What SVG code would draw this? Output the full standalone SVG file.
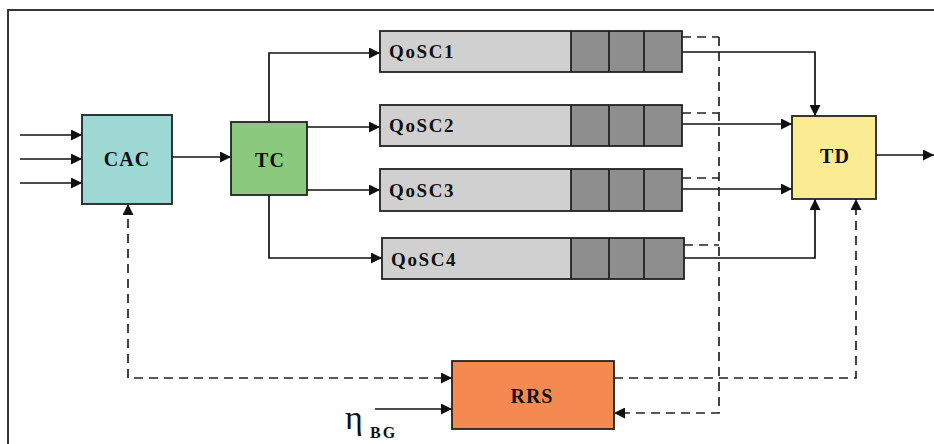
<svg xmlns="http://www.w3.org/2000/svg" width="934" height="444" viewBox="0 0 934 444">
  <defs>
    <marker id="arr" viewBox="0 0 10 10" refX="10" refY="5" markerWidth="11" markerHeight="11" markerUnits="userSpaceOnUse" orient="auto-start-reverse">
      <path d="M0,0 L10,5 L0,10 z" fill="#111"/>
    </marker>
    <style>
      .box { stroke: #222; stroke-width: 1.8; }
      .lbl { font-family: "Liberation Serif", "Times New Roman", serif; font-weight: bold; fill: #111; }
      .big { font-size: 20px; letter-spacing: 1px; }
      .q { font-size: 19px; letter-spacing: 1.6px; }
      .light { fill: #d0d0d0; }
      .dark { fill: #8e8e8e; }
      .ln { fill: none; stroke: #111; stroke-width: 1.7; }
      .dash { fill: none; stroke: #222; stroke-width: 1.7; stroke-dasharray: 9 6; }
    </style>
  </defs>

  <rect width="934" height="444" fill="#fff"/>
  <!-- outer frame (only top and left edges fall inside the canvas) -->
  <rect x="8" y="10" width="940" height="450" fill="none" stroke="#222" stroke-width="1.8"/>

  <g id="connectors">
    <!-- incoming traffic -->
    <line class="ln" x1="20" y1="135" x2="82" y2="135" marker-end="url(#arr)"/>
    <line class="ln" x1="20" y1="159" x2="82" y2="159" marker-end="url(#arr)"/>
    <line class="ln" x1="20" y1="183" x2="82" y2="183" marker-end="url(#arr)"/>
    <!-- CAC to TC -->
    <line class="ln" x1="172" y1="157" x2="231" y2="157" marker-end="url(#arr)"/>
    <!-- TC to queues -->
    <polyline class="ln" points="269,122 269,53 380,53" marker-end="url(#arr)"/>
    <line class="ln" x1="307" y1="127" x2="380" y2="127" marker-end="url(#arr)"/>
    <line class="ln" x1="307" y1="190" x2="380" y2="190" marker-end="url(#arr)"/>
    <polyline class="ln" points="269,195 269,258 382,258" marker-end="url(#arr)"/>
    <!-- queues to TD -->
    <polyline class="ln" points="682,52 815,52 815,116" marker-end="url(#arr)"/>
    <line class="ln" x1="682" y1="124" x2="792" y2="124" marker-end="url(#arr)"/>
    <line class="ln" x1="682" y1="189" x2="792" y2="189" marker-end="url(#arr)"/>
    <polyline class="ln" points="684,258 815,258 815,199" marker-end="url(#arr)"/>
    <!-- TD output -->
    <line class="ln" x1="876" y1="155" x2="934" y2="155" marker-end="url(#arr)"/>
    <!-- queue occupancy feedback to RRS -->
    <line class="dash" x1="682" y1="37" x2="719" y2="37"/>
    <line class="dash" x1="682" y1="113" x2="719" y2="113"/>
    <line class="dash" x1="682" y1="178" x2="719" y2="178"/>
    <line class="dash" x1="684" y1="245" x2="719" y2="245"/>
    <polyline class="dash" points="719,37 719,413 614,413" marker-end="url(#arr)"/>
    <!-- RRS to TD -->
    <polyline class="dash" points="614,378 856,378 856,199" marker-end="url(#arr)"/>
    <!-- CAC and RRS exchange -->
    <polyline class="dash" points="128,204 128,378 452,378" marker-start="url(#arr)" marker-end="url(#arr)"/>
    <!-- background load input -->
    <line class="ln" x1="375" y1="409" x2="452" y2="409" marker-end="url(#arr)"/>
  </g>

  <g id="CAC">
    <rect class="box" x="82" y="115" width="90" height="89" fill="#9dd8d4"/>
    <text class="lbl big" x="127" y="166" text-anchor="middle">CAC</text>
  </g>

  <g id="TC">
    <rect class="box" x="231" y="122" width="76" height="73" fill="#8bc97f"/>
    <text class="lbl big" x="270" y="167" text-anchor="middle">TC</text>
  </g>

  <g id="QoSC1">
    <rect class="light" x="380" y="31" width="191" height="41"/>
    <rect class="dark" x="571" y="31" width="111" height="41"/>
    <rect class="box" x="380" y="31" width="302" height="41" fill="none"/>
    <path class="box" d="M571,31 V72 M609,31 V72 M644,31 V72"/>
    <text class="lbl q" x="389" y="58">QoSC1</text>
  </g>

  <g id="QoSC2">
    <rect class="light" x="380" y="105" width="191" height="41"/>
    <rect class="dark" x="571" y="105" width="111" height="41"/>
    <rect class="box" x="380" y="105" width="302" height="41" fill="none"/>
    <path class="box" d="M571,105 V146 M609,105 V146 M644,105 V146"/>
    <text class="lbl q" x="389" y="132">QoSC2</text>
  </g>

  <g id="QoSC3">
    <rect class="light" x="380" y="169" width="191" height="42"/>
    <rect class="dark" x="571" y="169" width="111" height="42"/>
    <rect class="box" x="380" y="169" width="302" height="42" fill="none"/>
    <path class="box" d="M571,169 V211 M609,169 V211 M644,169 V211"/>
    <text class="lbl q" x="389" y="197">QoSC3</text>
  </g>

  <g id="QoSC4">
    <rect class="light" x="382" y="238" width="189" height="41"/>
    <rect class="dark" x="571" y="238" width="113" height="41"/>
    <rect class="box" x="382" y="238" width="302" height="41" fill="none"/>
    <path class="box" d="M571,238 V279 M609,238 V279 M644,238 V279"/>
    <text class="lbl q" x="391" y="266">QoSC4</text>
  </g>

  <g id="TD">
    <rect class="box" x="792" y="116" width="84" height="83" fill="#fbeb92"/>
    <text class="lbl big" x="835" y="163" text-anchor="middle">TD</text>
  </g>

  <g id="RRS">
    <rect class="box" x="452" y="361" width="162" height="68" fill="#f48a51"/>
    <text class="lbl big" x="532" y="403" text-anchor="middle">RRS</text>
  </g>

  <g id="eta-BG">
    <text x="345" y="429" font-family="Liberation Serif, Times New Roman, serif" font-size="34" fill="#111">η</text>
    <text class="lbl" x="370" y="438" font-size="16" letter-spacing="2">BG</text>
  </g>
</svg>
